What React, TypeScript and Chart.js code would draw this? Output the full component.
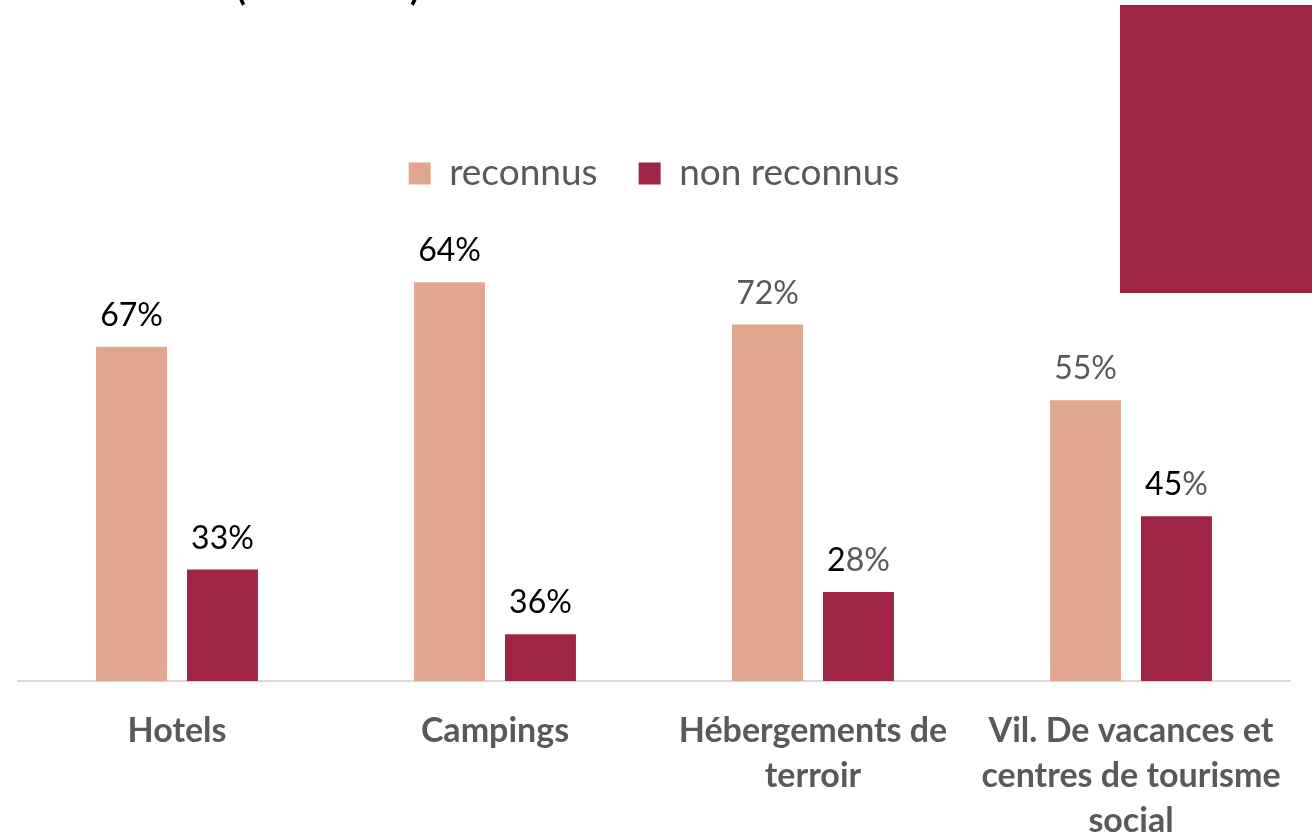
import React, { useEffect, useRef } from "react";
import { Chart, registerables } from "chart.js";

Chart.register(...registerables);

const FONT = "Lato, 'Open Sans', sans-serif";

const categories: (string | string[])[] = [
  "Hotels",
  "Campings",
  ["Hébergements de", "terroir"],
  ["Vil. De vacances et", "centres de tourisme", "social"],
];
const seriesNames = ["reconnus", "non reconnus"];
// bar heights as drawn in the picture
const reconnusValues = [75, 89.5, 80, 63];
const nonReconnusValues = [25, 10.5, 20, 37];
// labels as printed above the bars
const reconnusLabels = ["67%", "64%", "72%", "55%"];
const nonReconnusLabels = ["33%", "36%", "28%", "45%"];
// how many leading characters of each label are printed in black (rest grey)
const reconnusDarkChars = [3, 3, 0, 0];
const nonReconnusDarkChars = [3, 3, 1, 2];

const COLOR_RECONNUS = "#E1A68E";
const COLOR_NON = "#A02446";
const GREY = "#595959";

const valueLabelPlugin = {
  id: "valueLabels",
  afterDatasetsDraw(chart: any) {
    const ctx = chart.ctx as CanvasRenderingContext2D;
    ctx.save();
    ctx.font = `32px ${FONT}`;
    ctx.textBaseline = "alphabetic";
    ctx.textAlign = "left";
    chart.data.datasets.forEach((_ds: any, di: number) => {
      const meta = chart.getDatasetMeta(di);
      const texts = di === 0 ? reconnusLabels : nonReconnusLabels;
      const dark = di === 0 ? reconnusDarkChars : nonReconnusDarkChars;
      meta.data.forEach((el: any, i: number) => {
        const t = texts[i];
        const a = t.slice(0, dark[i]);
        const b = t.slice(dark[i]);
        const w = ctx.measureText(t).width;
        let x = el.x - w / 2;
        const y = el.y - 21;
        ctx.fillStyle = "#000000";
        ctx.fillText(a, x, y);
        x += ctx.measureText(a).width;
        ctx.fillStyle = GREY;
        ctx.fillText(b, x, y);
      });
    });
    ctx.restore();
  },
};

export default function App() {
  const canvasRef = useRef<HTMLCanvasElement | null>(null);

  useEffect(() => {
    document.body.style.margin = "0";
    const canvas = canvasRef.current;
    if (!canvas) return;
    const chart = new Chart(canvas, {
      type: "bar",
      data: {
        labels: categories as any,
        datasets: [
          {
            label: seriesNames[0],
            data: reconnusValues,
            backgroundColor: COLOR_RECONNUS,
            categoryPercentage: 0.572,
            barPercentage: 0.78,
          },
          {
            label: seriesNames[1],
            data: nonReconnusValues,
            backgroundColor: COLOR_NON,
            categoryPercentage: 0.572,
            barPercentage: 0.78,
          },
        ],
      },
      options: {
        responsive: false,
        animation: false,
        devicePixelRatio: 1,
        layout: { padding: { top: 114, left: 18, right: 22, bottom: 0 } },
        plugins: {
          legend: {
            display: true,
            position: "top",
            labels: {
              boxWidth: 22,
              boxHeight: 22,
              padding: 41,
              color: GREY,
              font: { family: FONT, size: 37 },
            },
          },
          tooltip: { enabled: false },
        },
        scales: {
          x: {
            grid: { display: false, drawTicks: false },
            border: { display: true, color: "#D9D9D9", width: 2 },
            ticks: {
              color: GREY,
              padding: 28,
              maxRotation: 0,
              autoSkip: false,
              font: { family: FONT, size: 34, weight: "bold", lineHeight: 1.32 },
            },
            afterFit: (scale: any) => {
              scale.height = 155;
            },
          },
          y: { display: false, min: 0, max: 107.5 },
        },
      },
      plugins: [valueLabelPlugin],
    });
    return () => chart.destroy();
  }, []);

  return (
    <div
      style={{
        position: "fixed",
        left: 0,
        top: 0,
        width: 1312,
        height: 836,
        background: "#ffffff",
        overflow: "hidden",
      }}
    >
      <canvas ref={canvasRef} width={1312} height={836} style={{ display: "block" }} />
      <div
        style={{
          position: "absolute",
          left: 1120,
          top: 5,
          width: 192,
          height: 288,
          background: COLOR_NON,
        }}
      />
      <span
        style={{
          position: "absolute",
          left: 236,
          top: -34,
          fontFamily: FONT,
          fontWeight: "bold",
          fontSize: 36,
          color: "#000",
          lineHeight: "40px",
        }}
      >
        (
      </span>
      <span
        style={{
          position: "absolute",
          left: 410,
          top: -34,
          fontFamily: FONT,
          fontWeight: "bold",
          fontSize: 36,
          color: "#000",
          lineHeight: "40px",
        }}
      >
        )
      </span>
    </div>
  );
}
